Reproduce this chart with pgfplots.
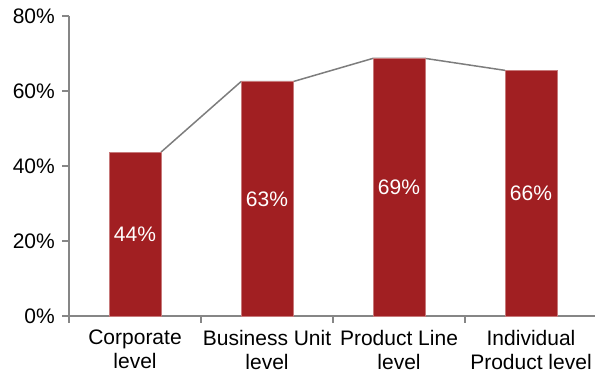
\documentclass[border=0pt]{standalone}
\usepackage{fontspec}
\setmainfont{Liberation Sans}
\usepackage{pgfplots}
\pgfplotsset{compat=1.18}
\definecolor{barred}{RGB}{161,31,34}
\definecolor{axgray}{RGB}{134,134,134}
\definecolor{lngray}{RGB}{125,125,125}
\begin{document}
\fontsize{21bp}{24bp}\selectfont
\begin{tikzpicture}
\begin{axis}[
  scale only axis, width=528bp, height=300bp,
  xmin=-0.5, xmax=3.5, ymin=0, ymax=80,
  axis x line=bottom, axis y line=left,
  axis line style={axgray, line width=1.5bp, -},
  xtick={-0.5,0.5,1.5,2.5,3.5}, x tick label as interval,
  xticklabels={{Corporate\\level},{Business Unit\\level},{Product Line\\level},{Individual\\Product level}},
  xticklabel style={align=center, font=\fontsize{21bp}{24bp}\selectfont},
  yticklabel style={font=\fontsize{21bp}{24bp}\selectfont},
  ytick={0,20,40,60,80},
  yticklabel={\pgfmathprintnumber{\tick}\%},
  /pgf/number format/assume math mode=true,
  tick align=outside, major tick length=7bp,
  tick style={axgray, line width=1.5bp},
  clip=false,
]
\addplot[lngray, line width=1.5bp, mark=none] coordinates {(0.197,43.7) (0.803,62.5) (1.197,62.5) (1.803,68.7) (2.197,68.7) (2.803,65.5)};
\addplot[ybar, bar width=52bp, fill=barred, draw=barred!60!white, line width=0.5bp] coordinates {(0,43.7) (1,62.5) (2,68.7) (3,65.5)};
\addplot[draw=none, mark=none, nodes near coords, point meta=explicit symbolic,
  nodes near coords style={white, anchor=center, font=\fontsize{21bp}{24bp}\selectfont}]
  coordinates {(0,21.85)[44\%] (1,31.25)[63\%] (2,34.35)[69\%] (3,32.75)[66\%]};
\coordinate (bl) at (rel axis cs:-0.1307,-0.2067);
\coordinate (tr) at (rel axis cs:0.9962,1.0533);
\end{axis}
\pgfresetboundingbox
\path[use as bounding box] (bl) rectangle (tr);
\end{tikzpicture}
\end{document}
